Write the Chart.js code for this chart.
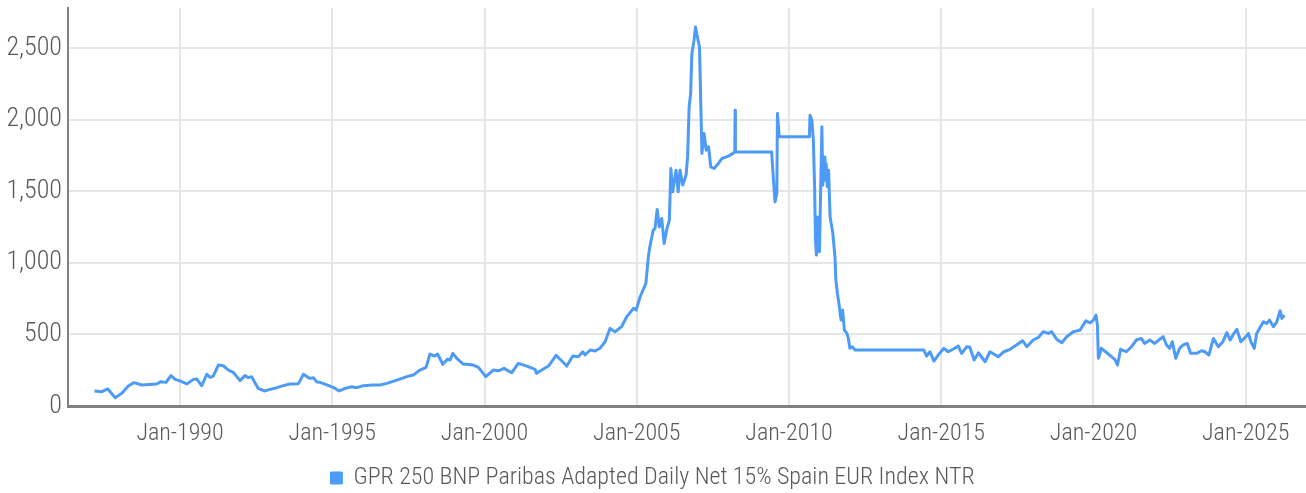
<!DOCTYPE html>
<html>
<head>
<meta charset="utf-8">
<script src="https://cdn.jsdelivr.net/npm/chart.js@4.4.1/dist/chart.umd.min.js"></script>
<style>
  html, body { margin: 0; padding: 0; background: #fff; }
  #wrap { width: 1306px; height: 493px; }
</style>
</head>
<body>
<div id="wrap"><canvas id="indexChart"></canvas></div>
<script>
const seriesLabel = "GPR 250 BNP Paribas Adapted Daily Net 15% Spain EUR Index NTR";

// decimal years
const years = [
  1987.19, 1987.43, 1987.63, 1987.87, 1988.09, 1988.30, 1988.49, 1988.74, 1989.01, 1989.23,
  1989.37, 1989.54, 1989.70, 1989.84, 1990.00, 1990.22, 1990.44, 1990.55, 1990.71, 1990.88,
  1990.99, 1991.09, 1991.26, 1991.42, 1991.59, 1991.75, 1991.97, 1992.13, 1992.24, 1992.35,
  1992.57, 1992.76, 1992.96, 1993.18, 1993.39, 1993.61, 1993.89, 1994.05, 1994.25, 1994.38,
  1994.49, 1994.60, 1994.82, 1995.03, 1995.23, 1995.42, 1995.64, 1995.80, 1996.02, 1996.30,
  1996.57, 1996.79, 1997.12, 1997.45, 1997.66, 1997.88, 1998.08, 1998.21, 1998.37, 1998.46,
  1998.63, 1998.79, 1998.87, 1998.96, 1999.09, 1999.30, 1999.63, 1999.80, 2000.04, 2000.29,
  2000.46, 2000.64, 2000.89, 2001.11, 2001.39, 2001.66, 2001.71, 2001.88, 2002.10, 2002.35,
  2002.54, 2002.70, 2002.90, 2003.08, 2003.23, 2003.30, 2003.47, 2003.63, 2003.79, 2003.96,
  2004.12, 2004.29, 2004.50, 2004.67, 2004.89, 2004.98, 2005.11, 2005.30, 2005.38, 2005.43,
  2005.54, 2005.60, 2005.67, 2005.74, 2005.82, 2005.90, 2005.98, 2006.07, 2006.12, 2006.18,
  2006.29, 2006.36, 2006.42, 2006.51, 2006.62, 2006.67, 2006.72, 2006.77, 2006.81, 2006.88,
  2006.93, 2006.99, 2007.06, 2007.10, 2007.14, 2007.21, 2007.28, 2007.36, 2007.43, 2007.54,
  2007.68, 2007.80, 2008.01, 2008.18, 2008.22, 2008.23, 2008.24, 2009.43, 2009.49, 2009.54,
  2009.60, 2009.62, 2009.68, 2010.67, 2010.69, 2010.75, 2010.80, 2010.84, 2010.87, 2010.90,
  2010.94, 2011.00, 2011.08, 2011.11, 2011.15, 2011.18, 2011.22, 2011.26, 2011.30, 2011.35,
  2011.44, 2011.51, 2011.54, 2011.59, 2011.64, 2011.71, 2011.76, 2011.82, 2011.90, 2011.95,
  2012.00, 2012.08, 2012.17, 2014.43, 2014.52, 2014.63, 2014.76, 2014.90, 2015.09, 2015.23,
  2015.40, 2015.56, 2015.67, 2015.84, 2015.94, 2016.08, 2016.22, 2016.44, 2016.60, 2016.87,
  2017.06, 2017.26, 2017.47, 2017.67, 2017.81, 2018.02, 2018.19, 2018.35, 2018.52, 2018.63,
  2018.79, 2018.96, 2019.12, 2019.34, 2019.56, 2019.75, 2019.89, 2020.00, 2020.08, 2020.13,
  2020.16, 2020.26, 2020.40, 2020.53, 2020.70, 2020.79, 2020.89, 2021.08, 2021.25, 2021.41,
  2021.57, 2021.68, 2021.85, 2022.01, 2022.18, 2022.29, 2022.40, 2022.50, 2022.59, 2022.70,
  2022.83, 2022.94, 2023.08, 2023.19, 2023.39, 2023.55, 2023.66, 2023.79, 2023.94, 2024.10,
  2024.25, 2024.38, 2024.49, 2024.58, 2024.71, 2024.84, 2024.95, 2025.09, 2025.17, 2025.28,
  2025.36, 2025.58, 2025.69, 2025.78, 2025.91, 2026.02, 2026.13, 2026.19, 2026.27
];

const values = [
  105, 100, 119, 58, 89, 140, 163, 147, 151, 154,
  170, 165, 212, 186, 175, 154, 186, 188, 142, 221,
  200, 209, 286, 281, 251, 235, 177, 212, 198, 205,
  123, 105, 116, 128, 142, 154, 156, 221, 193, 198,
  168, 165, 147, 130, 105, 123, 135, 128, 142, 147,
  147, 158, 181, 205, 216, 251, 270, 363, 349, 363,
  291, 328, 321, 368, 333, 293, 286, 270, 205, 251,
  246, 263, 232, 298, 279, 256, 228, 251, 279, 354,
  314, 279, 349, 344, 379, 356, 391, 384, 403, 449,
  542, 519, 554, 623, 682, 670, 763, 856, 1042, 1112,
  1228, 1240, 1373, 1251, 1310, 1135, 1228, 1298, 1659, 1496,
  1647, 1496, 1647, 1543, 1612, 1740, 2089, 2182, 2461, 2555,
  2648, 2578, 2508, 2136, 1764, 1903, 1787, 1810, 1670, 1659,
  1694, 1729, 1745, 1768, 1775, 2066, 1775, 1775, 1577, 1426,
  1485, 2043, 1880, 1880, 2031, 1996, 1857, 1531, 1159, 1054,
  1321, 1077, 1950, 1543, 1740, 1577, 1694, 1531, 1647, 1321,
  1205, 1042, 879, 786, 716, 600, 670, 530, 507, 472,
  403, 414, 391, 391, 349, 379, 314, 356, 403, 379,
  398, 419, 368, 414, 410, 321, 372, 309, 379, 344,
  379, 396, 426, 456, 414, 461, 479, 519, 507, 519,
  466, 442, 484, 519, 530, 595, 581, 600, 635, 565,
  333, 403, 379, 356, 326, 286, 396, 379, 414, 461,
  472, 437, 461, 437, 466, 484, 426, 403, 449, 333,
  403, 426, 437, 368, 368, 386, 379, 356, 472, 414,
  449, 512, 461, 496, 535, 449, 472, 507, 449, 403,
  507, 588, 577, 600, 554, 588, 665, 612, 635
];

const xTickYears = [1990, 1995, 2000, 2005, 2010, 2015, 2020, 2025];
const yTickValues = [0, 500, 1000, 1500, 2000, 2500];

const points = years.map((yr, i) => ({ x: yr, y: values[i] }));

// Roboto with the condensed width, light weight
const labelFont = "Roboto, sans-serif";
const labelWeight = "300 condensed";

const ctx = document.getElementById("indexChart").getContext("2d");
const chart = new Chart(ctx, {
  type: "line",
  data: {
    datasets: [
      {
        label: seriesLabel,
        data: points,
        borderColor: "#4d9bf7",
        backgroundColor: "#4d9bf7",
        borderWidth: 3,
        pointRadius: 0,
        tension: 0,
        borderJoinStyle: "round",
      },
    ],
  },
  options: {
    responsive: true,
    maintainAspectRatio: false,
    animation: false,
    layout: { padding: { top: 8, right: 0, left: 0, bottom: -7 } },
    plugins: {
      tooltip: { enabled: false },
      legend: {
        position: "bottom",
        labels: {
          boxWidth: 10,
          boxHeight: 10,
          padding: 14,
          color: "#595959",
          font: { family: labelFont, weight: labelWeight, size: 24 },
        },
      },
    },
    scales: {
      x: {
        type: "linear",
        min: 1986.32,
        max: 2026.98,
        afterBuildTicks: (scale) => {
          scale.ticks = xTickYears.map((v) => ({ value: v }));
        },
        afterFit: (scale) => {
          scale.height = 46;
          scale.paddingLeft = 0;
          scale.paddingRight = 0;
        },
        ticks: {
          autoSkip: false,
          maxRotation: 0,
          padding: 14,
          color: "#595959",
          font: { family: labelFont, weight: labelWeight, size: 24 },
          callback: (v) => "Jan-" + v,
        },
        grid: { color: "#e6e6e6", lineWidth: 2, drawTicks: false },
        border: { color: "#808080", width: 3 },
      },
      y: {
        min: 0,
        max: 2780,
        afterBuildTicks: (scale) => {
          scale.ticks = yTickValues.map((v) => ({ value: v }));
        },
        afterFit: (scale) => {
          scale.width = 68;
          scale.paddingTop = 0;
          scale.paddingBottom = 0;
        },
        ticks: {
          padding: 6,
          color: "#595959",
          font: { family: labelFont, weight: labelWeight, size: 26 },
          callback: (v) => v.toLocaleString("en-US"),
        },
        grid: { color: "#e6e6e6", lineWidth: 2, drawTicks: false },
        border: { color: "#808080", width: 2 },
      },
    },
  },
});
</script>
</body>
</html>
